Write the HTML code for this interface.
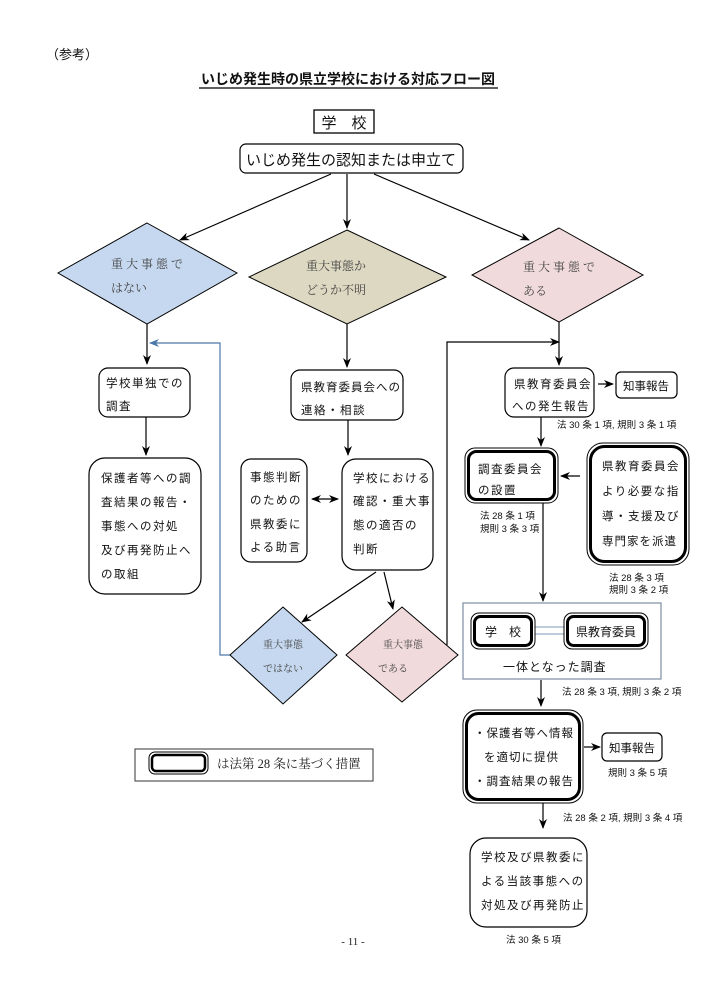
<!DOCTYPE html>
<html><head><meta charset="utf-8"><style>
html,body{margin:0;padding:0;background:#fff}
svg{display:block}
text{font-family:"Liberation Sans","Noto Sans CJK JP",sans-serif;fill:#111}
.m{font-family:"Liberation Serif","Noto Serif CJK JP",serif;fill:#444}
.s{font-size:9.5px}
.t{font-size:11.5px;letter-spacing:1.5px}
.u{font-size:11.5px;letter-spacing:1px}
</style></head><body>
<svg width="706" height="1000" viewBox="0 0 706 1000" xmlns="http://www.w3.org/2000/svg">
<defs>
<marker id="a" markerWidth="10" markerHeight="8" refX="9" refY="4" orient="auto" markerUnits="userSpaceOnUse"><path d="M0,0 L10,4 L0,8 L3,4 Z" fill="#000"/></marker>
<marker id="ab" markerWidth="10" markerHeight="8" refX="9" refY="4" orient="auto" markerUnits="userSpaceOnUse"><path d="M0,0 L10,4 L0,8 L3,4 Z" fill="#4a78a8"/></marker>
<marker id="as" markerWidth="10" markerHeight="8" refX="1" refY="4" orient="auto" markerUnits="userSpaceOnUse"><path d="M10,0 L0,4 L10,8 L7,4 Z" fill="#000"/></marker>
</defs>
<text x="46" y="59" font-size="13">（参考）</text>
<text x="348" y="84" font-size="14" font-weight="bold" text-anchor="middle">いじめ発生時の県立学校における対応フロー図</text>
<line x1="199" y1="88" x2="498" y2="88" stroke="#000" stroke-width="1.2"/>

<rect x="314" y="110" width="60" height="23" fill="#fff" stroke="#000" stroke-width="1.3"/>
<text x="344" y="128" font-size="15" text-anchor="middle">学　校</text>
<rect x="240" y="144" width="223" height="29" rx="6" fill="#fff" stroke="#000" stroke-width="1.2"/>
<text x="351" y="165" font-size="15" text-anchor="middle">いじめ発生の認知または申立て</text>

<g stroke="#000" stroke-width="1.2" fill="none">
<line x1="331" y1="174" x2="180" y2="240" marker-end="url(#a)"/>
<line x1="347" y1="174" x2="347" y2="228" marker-end="url(#a)"/>
<line x1="374" y1="174" x2="529" y2="240" marker-end="url(#a)"/>
</g>

<polygon points="147,223 237,273 147,324 58,273" fill="#c6d8ef" stroke="#000"/>
<text class="m" x="111" y="268" font-size="12" letter-spacing="3">重大事態で</text>
<text class="m" x="111" y="292" font-size="12">はない</text>
<polygon points="347,230 446,277 347,324 249,277" fill="#ddd8c1" stroke="#000"/>
<text class="m" x="306" y="270" font-size="12">重大事態か</text>
<text class="m" x="306" y="294" font-size="12">どうか不明</text>
<polygon points="559,228 643,275 559,322 472,275" fill="#f1dadb" stroke="#000"/>
<text class="m" x="523" y="271" font-size="12" letter-spacing="3">重大事態で</text>
<text class="m" x="523" y="295" font-size="12">ある</text>

<g stroke="#000" stroke-width="1.2" fill="none">
<line x1="147" y1="324" x2="147" y2="364" marker-end="url(#a)"/>
<line x1="347" y1="324" x2="347" y2="367" marker-end="url(#a)"/>
<line x1="559" y1="322" x2="559" y2="365" marker-end="url(#a)"/>
<polyline points="447,645 447,342 559,342" marker-end="url(#a)"/>
<line x1="146" y1="417" x2="146" y2="455" marker-end="url(#a)"/>
<line x1="348" y1="420" x2="348" y2="455" marker-end="url(#a)"/>
<line x1="312" y1="499" x2="338" y2="499" marker-start="url(#as)" marker-end="url(#a)"/>
<line x1="376" y1="572" x2="302" y2="622" marker-end="url(#a)"/>
<line x1="384" y1="572" x2="393" y2="609" marker-end="url(#a)"/>
</g>
<polyline points="230,655 220,655 220,343 150,343" fill="none" stroke="#4a78a8" stroke-width="1.2" marker-end="url(#ab)"/>

<rect x="99" y="368" width="91" height="49" rx="9" fill="#fff" stroke="#000" stroke-width="1.2"/>
<text class="t" x="106" y="387">学校単独での</text>
<text class="t" x="106" y="410">調査</text>
<rect x="89" y="458" width="112" height="136" rx="16" fill="#fff" stroke="#000" stroke-width="1.2"/>
<text class="t" x="101" y="482">保護者等への調</text>
<text class="t" x="101" y="506">査結果の報告・</text>
<text class="t" x="101" y="530">事態への対処</text>
<text class="t" x="101" y="554">及び再発防止へ</text>
<text class="t" x="101" y="578">の取組</text>

<rect x="291" y="370" width="112" height="50" rx="9" fill="#fff" stroke="#000" stroke-width="1.2"/>
<text class="u" x="301" y="391">県教育委員会への</text>
<text class="t" x="301" y="414">連絡・相談</text>
<rect x="241" y="459" width="66" height="103" rx="10" fill="#fff" stroke="#000" stroke-width="1.2"/>
<text class="t" x="250" y="481">事態判断</text>
<text class="t" x="250" y="504">のための</text>
<text class="t" x="250" y="528">県教委に</text>
<text class="t" x="250" y="551">よる助言</text>
<rect x="342" y="459" width="91" height="111" rx="14" fill="#fff" stroke="#000" stroke-width="1.2"/>
<text class="t" x="353" y="482">学校における</text>
<text class="t" x="353" y="505">確認・重大事</text>
<text class="t" x="353" y="529">態の適否の</text>
<text class="t" x="353" y="553">判断</text>

<polygon points="283,607 337,655 283,704 230,655" fill="#c6d8ef" stroke="#000"/>
<text class="m" x="283" y="648" font-size="10" text-anchor="middle">重大事態</text>
<text class="m" x="283" y="672" font-size="10" text-anchor="middle">ではない</text>
<polygon points="402,607 458,655 402,702 346,655" fill="#f1dadb" stroke="#000"/>
<text class="m" x="403" y="648" font-size="10" text-anchor="middle">重大事態</text>
<text class="m" x="393" y="672" font-size="10" text-anchor="middle">である</text>

<rect x="505" y="368" width="89" height="49" rx="9" fill="#fff" stroke="#000" stroke-width="1.2"/>
<text class="t" x="514" y="388">県教育委員会</text>
<text class="t" x="512" y="410">への発生報告</text>
<rect x="616" y="372" width="61" height="26" rx="5" fill="#fff" stroke="#000" stroke-width="1.2"/>
<text x="646" y="390" font-size="11.5" text-anchor="middle">知事報告</text>
<line x1="598" y1="384" x2="613" y2="384" stroke="#000" stroke-width="1.2" marker-end="url(#a)"/>
<text class="s" x="557" y="428">法 30 条 1 項, 規則 3 条 1 項</text>
<line x1="541" y1="417" x2="541" y2="446" stroke="#000" stroke-width="1.2" marker-end="url(#a)"/>

<rect x="465" y="448" width="93" height="55" rx="10" fill="#fff" stroke="#000" stroke-width="1"/>
<rect x="468.5" y="451.5" width="86" height="48" rx="8" fill="none" stroke="#000" stroke-width="3"/>
<text class="t" x="478" y="473">調査委員会</text>
<text class="t" x="478" y="494">の設置</text>
<text class="s" x="480" y="519">法 28 条 1 項</text>
<text class="s" x="480" y="532">規則 3 条 3 項</text>
<rect x="587" y="443" width="102" height="122" rx="16" fill="#fff" stroke="#000" stroke-width="1"/>
<rect x="590.5" y="446.5" width="95" height="115" rx="14" fill="none" stroke="#000" stroke-width="3"/>
<text class="t" x="602" y="470">県教育委員会</text>
<text class="t" x="602" y="495">より必要な指</text>
<text class="t" x="602" y="520">導・支援及び</text>
<text class="u" x="602" y="545">専門家を派遣</text>
<line x1="580" y1="476" x2="561" y2="476" stroke="#000" stroke-width="1.2" marker-end="url(#a)"/>
<text class="s" x="609" y="581">法 28 条 3 項</text>
<text class="s" x="609" y="593">規則 3 条 2 項</text>
<line x1="543" y1="503" x2="543" y2="601" stroke="#000" stroke-width="1.2" marker-end="url(#a)"/>

<rect x="463" y="603" width="198" height="76" fill="#fff" stroke="#7d8ea3" stroke-width="1.2"/>
<line x1="535" y1="627" x2="564" y2="627" stroke="#a9bcd0" stroke-width="1.5"/>
<line x1="535" y1="634" x2="564" y2="634" stroke="#a9bcd0" stroke-width="1.5"/>
<rect x="471" y="613" width="64" height="36" rx="8" fill="#fff" stroke="#000" stroke-width="1"/>
<rect x="474.5" y="616.5" width="57" height="29" rx="6" fill="none" stroke="#000" stroke-width="3"/>
<text x="503" y="636" font-size="12" text-anchor="middle">学　校</text>
<rect x="564" y="613" width="84" height="36" rx="8" fill="#fff" stroke="#000" stroke-width="1"/>
<rect x="567.5" y="616.5" width="77" height="29" rx="6" fill="none" stroke="#000" stroke-width="3"/>
<text x="606" y="636" font-size="12" text-anchor="middle">県教育委員</text>
<text x="503" y="671" font-size="12" letter-spacing="1">一体となった調査</text>

<line x1="541" y1="680" x2="541" y2="706" stroke="#000" stroke-width="1.2" marker-end="url(#a)"/>
<text class="s" x="562" y="695">法 28 条 3 項, 規則 3 条 2 項</text>
<rect x="463" y="710" width="120" height="93" rx="14" fill="#fff" stroke="#000" stroke-width="1"/>
<rect x="466.5" y="713.5" width="113" height="86" rx="12" fill="none" stroke="#000" stroke-width="3"/>
<text class="u" x="474" y="737">・保護者等へ情報</text>
<text class="u" x="484" y="761">を適切に提供</text>
<text class="u" x="474" y="785">・調査結果の報告</text>
<line x1="584" y1="747" x2="600" y2="747" stroke="#000" stroke-width="1.2" marker-end="url(#a)"/>
<rect x="602" y="733" width="60" height="28" rx="5" fill="#fff" stroke="#000" stroke-width="1.2"/>
<text x="632" y="752" font-size="11.5" text-anchor="middle">知事報告</text>
<text class="s" x="608" y="776">規則 3 条 5 項</text>
<line x1="543" y1="803" x2="543" y2="828" stroke="#000" stroke-width="1.2" marker-end="url(#a)"/>
<text class="s" x="563" y="821">法 28 条 2 項,  規則 3 条 4 項</text>
<rect x="470" y="838" width="117" height="89" rx="16" fill="#fff" stroke="#000" stroke-width="1.2"/>
<text class="t" x="481" y="861">学校及び県教委に</text>
<text class="t" x="481" y="885">よる当該事態への</text>
<text class="t" x="481" y="909">対処及び再発防止</text>
<text class="s" x="506" y="943">法 30 条 5 項</text>

<rect x="135" y="749" width="238" height="32" fill="#fff" stroke="#555" stroke-width="1.2"/>
<rect x="149" y="752" width="59" height="22" rx="6" fill="#fff" stroke="#000" stroke-width="1"/>
<rect x="152" y="755" width="53" height="16" rx="4" fill="none" stroke="#000" stroke-width="2.5"/>
<text class="m" x="217" y="768" font-size="12.5" style="fill:#222">は法第 28 条に基づく措置</text>
<text class="m" x="353" y="945" font-size="11" text-anchor="middle" style="fill:#222">- 11 -</text>
</svg>
</body></html>
